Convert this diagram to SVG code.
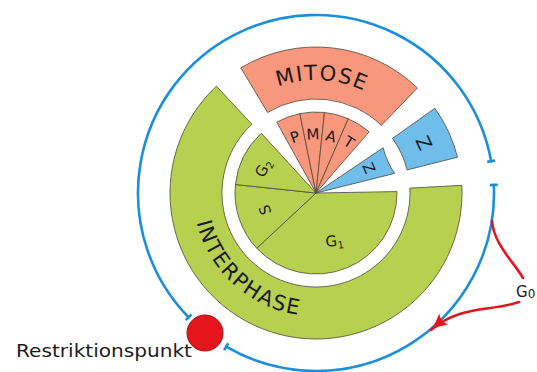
<svg xmlns="http://www.w3.org/2000/svg" width="537" height="372" viewBox="0 0 537 372">
  <style>
    .sec { stroke: #4a4a3a; stroke-width: 0.8; stroke-linejoin: round; }
    .mit { fill: #F8977B; }
    .int { fill: #B7D04F; }
    .zz  { fill: #6FBDEA; }
    .cyc { fill: none; stroke: #1B8FDB; stroke-width: 2.6; stroke-linecap: round; }
    .tick { stroke: #1B8FDB; stroke-width: 2.6; stroke-linecap: butt; }
    .g0 { fill: none; stroke: #E2161B; stroke-width: 2.6; stroke-linecap: round; }
    text { font-family: "DejaVu Sans", "Liberation Sans", sans-serif; fill: #1a1a1a; }
    .big { font-size: 21px; letter-spacing: 1.5px; }
    .mid { font-size: 19px; }
    .sm  { font-size: 15px; }
  </style>
  <defs>
    <marker id="barb" markerUnits="userSpaceOnUse" markerWidth="20" markerHeight="16" refX="17" refY="7" orient="auto">
      <path d="M0,0 Q9,5 17,7 Q9,9 0,14 Q5,7 0,0 Z" fill="#E2161B"/>
    </marker>
    <path id="arcMitose" d="M233.35,115.93 A113,113 0 0 1 406.24,125.00"/>
    <path id="arcInter" d="M195.69,167.43 A123,123 0 0 0 354.01,309.98"/>
  </defs>

  <!-- cell cycle ring with restriction point and G0 exit -->
  <g id="connectors">
    <path class="cyc" d="M491.13,161.17 A178,178 0 1 0 188.61,317.32"/>
    <path class="cyc" d="M226.20,346.69 A178,178 0 0 0 493.82,184.92"/>
    <line class="tick" x1="487.2" y1="161.9" x2="495.1" y2="160.5"/>
    <line class="tick" x1="489.8" y1="185.1" x2="497.8" y2="184.7"/>
    <line class="tick" x1="185.75" y1="320.11" x2="191.47" y2="314.53"/>
    <line class="tick" x1="224.18" y1="350.14" x2="228.22" y2="343.24"/>
    <path class="g0" d="M492,221 C494,245 514,262 523,278"/>
    <path class="g0" d="M519,302 C490,312 460,305 431,330" marker-end="url(#barb)"/>
  </g>

  <!-- outer phase ring -->
  <g id="interphase">
    <path class="sec int" d="M216.43,86.22 A146,146 0 1 0 461.80,185.36 L409.87,188.08 A94,94 0 1 1 251.89,124.25 Z"/>
    <text class="big"><textPath href="#arcInter" startOffset="50%" text-anchor="middle">INTERPHASE</textPath></text>
  </g>
  <g id="mitose">
    <path class="sec mit" d="M240.81,67.85 A146,146 0 0 1 417.43,87.98 L381.30,125.39 A94,94 0 0 0 267.59,112.42 Z"/>
    <text class="big"><textPath href="#arcMitose" startOffset="50%" text-anchor="middle">MITOSE</textPath></text>
  </g>
  <g id="z-outer">
    <path class="sec zz" d="M392.53,138.41 L434.86,108.22 A146,146 0 0 1 457.53,157.19 L407.12,169.94 A94,94 0 0 0 392.53,138.41 Z"/>
    <text class="mid" x="0" y="0" text-anchor="middle" dy="0.36em" transform="translate(424,143) rotate(65)">Z</text>
  </g>

  <!-- inner phase pie -->
  <g id="g1">
    <path class="sec int" d="M316,193 L256.76,248.24 A81,81 0 0 0 396.99,191.59 Z"/>
    <text class="sm" text-anchor="middle" transform="translate(335,246) rotate(-6)">G<tspan font-size="10" dy="3">1</tspan></text>
  </g>
  <g id="s">
    <path class="sec int" d="M316,193 L235.44,184.53 A81,81 0 0 0 256.76,248.24 Z"/>
    <text class="sm" text-anchor="middle" dy="0.36em" transform="translate(265,210) rotate(-108)">S</text>
  </g>
  <g id="g2">
    <path class="sec int" d="M316,193 L261.28,133.28 A81,81 0 0 0 235.44,184.53 Z"/>
    <text class="sm" text-anchor="middle" dy="0.36em" transform="translate(263,168) rotate(-63)">G<tspan font-size="10" dy="3">2</tspan></text>
  </g>
  <g id="p">
    <path class="sec mit" d="M316,193 L276.73,122.16 A81,81 0 0 1 299.85,113.63 Z"/>
    <text class="sm" text-anchor="middle" dy="0.36em" transform="translate(295,137) rotate(-20)">P</text>
  </g>
  <g id="m">
    <path class="sec mit" d="M316,193 L299.85,113.63 A81,81 0 0 1 324.47,112.44 Z"/>
    <text class="sm" text-anchor="middle" dy="0.36em" transform="translate(313,134) rotate(-3)">M</text>
  </g>
  <g id="a">
    <path class="sec mit" d="M316,193 L324.47,112.44 A81,81 0 0 1 348.30,118.71 Z"/>
    <text class="sm" text-anchor="middle" dy="0.36em" transform="translate(331,136) rotate(15)">A</text>
  </g>
  <g id="t">
    <path class="sec mit" d="M316,193 L348.30,118.71 A81,81 0 0 1 369.14,131.87 Z"/>
    <text class="sm" text-anchor="middle" dy="0.36em" transform="translate(349,142) rotate(32)">T</text>
  </g>
  <g id="z-inner">
    <path class="sec zz" d="M316,193 L383.15,147.70 A81,81 0 0 0 394.59,173.41 Z"/>
    <text class="sm" text-anchor="middle" dy="0.36em" transform="translate(369,168) rotate(66)">Z</text>
  </g>

  <g id="restriktionspunkt">
    <circle cx="205" cy="333" r="18" fill="#E6141B" stroke="#A01015" stroke-width="1"/>
    <text x="16" y="357" font-size="17" textLength="176" lengthAdjust="spacingAndGlyphs">Restriktionspunkt</text>
  </g>
  <g id="g0-label">
    <text x="516" y="297" font-size="15">G<tspan font-size="12" dy="1">0</tspan></text>
  </g>
</svg>
